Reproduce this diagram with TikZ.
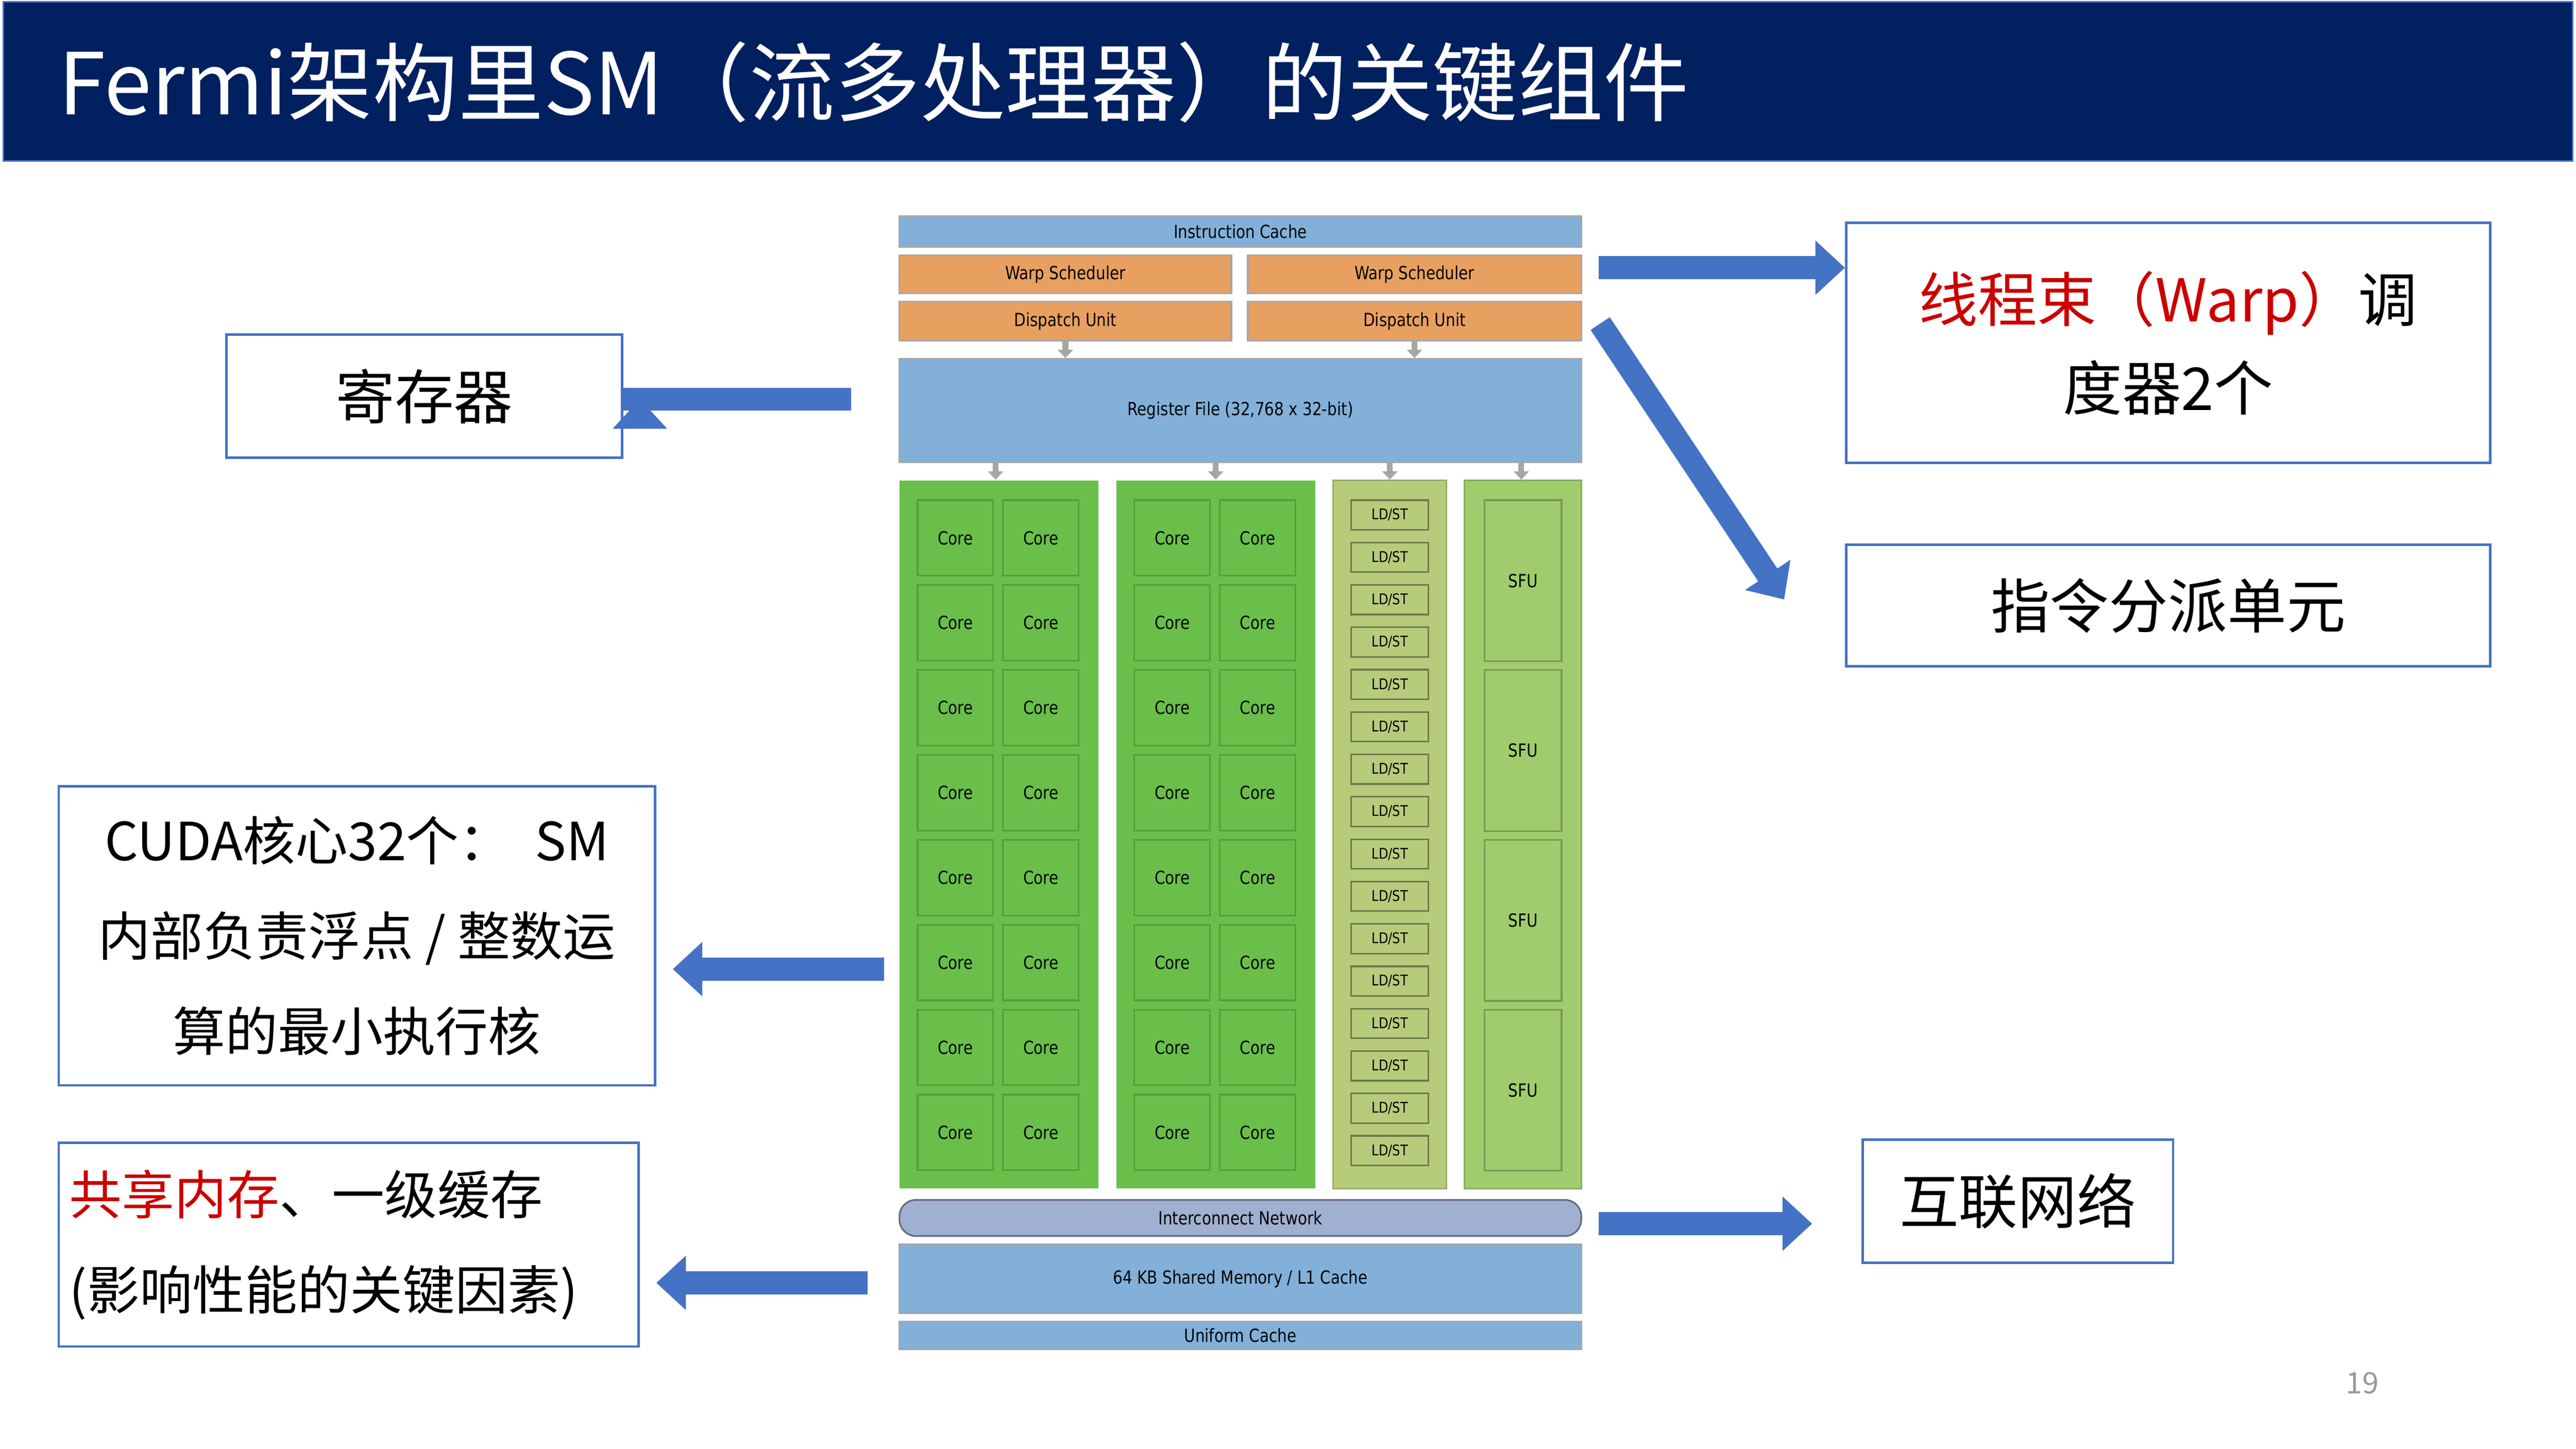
\documentclass[tikz,border=0pt]{standalone}
\usepackage{fontspec}
\setmainfont{Noto Sans CJK SC}
\newfontfamily\diagfont{DejaVu Sans}[FakeStretch=0.84]
\usetikzlibrary{arrows.meta,positioning}
\definecolor{titlenavy}{RGB}{0,32,96}
\definecolor{cacheblue}{RGB}{130,176,217}
\definecolor{schedorange}{RGB}{232,160,96}
\definecolor{coregreen}{RGB}{106,191,75}
\definecolor{celledge}{RGB}{80,160,60}
\definecolor{ldstgreen}{RGB}{182,204,123}
\definecolor{sfugreen}{RGB}{160,204,110}
\definecolor{netgray}{RGB}{160,176,208}
\definecolor{arrowblue}{RGB}{68,114,196}
\definecolor{labelred}{RGB}{204,0,0}
\newcommand*{\unitstyle}{\diagfont\fontsize{11}{12}\selectfont}
\newcommand*{\labelstyle}{\fontsize{36}{40}\selectfont}

\tikzset{
  blk/.style={anchor=north west, inner sep=0, font=\unitstyle, draw=black!35, line width=1pt},
  cell/.style={blk, draw=celledge, minimum width=46pt, minimum height=46pt},
  ldst/.style={blk, draw=black!40!ldstgreen, fill=ldstgreen, minimum width=47pt, minimum height=18pt, font=\diagfont\fontsize{9}{10}\selectfont},
  sfu/.style={blk, draw=black!25!sfugreen, minimum width=47pt, minimum height=98pt},
  feed/.style={-{Triangle[width=9pt,length=5pt]}, line width=3.5pt, draw=black!35},
  bigarrow/.style={-{Triangle[width=32pt,length=18pt]}, line width=14pt, draw=arrowblue},
  labelbox/.style={draw=arrowblue, line width=1.5pt, anchor=north west, inner sep=0}
}

\begin{document}
\begin{tikzpicture}[x=1pt,y=-1pt]
    \useasboundingbox (0,0) rectangle (1568,882);

    % title
    \fill[titlenavy, draw=arrowblue, line width=1pt] (2,1) rectangle (1566,98);
    \node[anchor=west, text=white, font=\fontsize{52}{56}\selectfont] (title) at (32,50)
      {Fermi架构里SM（流多处理器）的关键组件};

    % SM block diagram
    \node[blk, fill=cacheblue, minimum width=415pt, minimum height=19pt] (icache) at (547,131) {Instruction Cache};
    \node[blk, fill=schedorange, minimum width=202pt, minimum height=23pt] (warpA) at (547,155) {Warp Scheduler};
    \node[blk, fill=schedorange, minimum width=203pt, minimum height=23pt] (warpB) at (759,155) {Warp Scheduler};
    \node[blk, fill=schedorange, minimum width=202pt, minimum height=24pt] (dispA) at (547,183) {Dispatch Unit};
    \node[blk, fill=schedorange, minimum width=203pt, minimum height=24pt] (dispB) at (759,183) {Dispatch Unit};
    \node[blk, fill=cacheblue, minimum width=415pt, minimum height=63pt] (regfile) at (547,218) {Register File (32,768 x 32-bit)};

    \draw[feed] (dispA.south) -- (regfile.north -| dispA.south);
    \draw[feed] (dispB.south) -- (regfile.north -| dispB.south);

    \node[blk, draw=none, fill=coregreen, minimum width=121pt, minimum height=431pt] (colA) at (547,292) {};
    \node[blk, draw=none, fill=coregreen, minimum width=121pt, minimum height=431pt] (colB) at (679,292) {};
    \node[blk, draw=black!15!ldstgreen, fill=ldstgreen, minimum width=69pt, minimum height=431pt] (colL) at (811,292) {};
    \node[blk, draw=black!15!sfugreen, fill=sfugreen, minimum width=71pt, minimum height=431pt] (colS) at (891,292) {};

    \foreach \c/\x in {A/606,B/740,L/846,S/926}
      \draw[feed] (regfile.south -| \x,0) -- (col\c.north -| \x,0);

    % cores
    \foreach \r in {0,...,7} {
      \foreach \k/\x in {1/558,2/610,3/690,4/742}
        \node[cell] (core\k-\r) at (\x,304+51.7*\r) {Core};
    }
    % load/store units
    \foreach \r in {0,...,15}
      \node[ldst] (ldst\r) at (822,304+25.8*\r) {LD/ST};
    % special function units
    \foreach \r in {0,...,3}
      \node[sfu] (sfu\r) at (903,304+103.4*\r) {SFU};

    \node[blk, fill=netgray, draw=black!40!netgray, rounded corners=10pt, minimum width=415pt, minimum height=22pt] (net) at (547,730) {Interconnect Network};
    \node[blk, fill=cacheblue, minimum width=415pt, minimum height=42pt] (shmem) at (547,757) {64 KB Shared Memory / L1 Cache};
    \node[blk, fill=cacheblue, minimum width=415pt, minimum height=17pt] (ucache) at (547,804) {Uniform Cache};

    % label boxes
    \node[labelbox, minimum width=392pt, minimum height=146pt, font=\labelstyle, align=center] (warpbox) at (1123,135)
      {{\color{labelred}线程束（Warp）}调\\[14pt]度器2个};
    \node[labelbox, minimum width=392pt, minimum height=74pt, font=\labelstyle] (dispbox) at (1123,331) {指令分派单元};
    \node[labelbox, minimum width=189pt, minimum height=75pt, font=\labelstyle] (netbox) at (1133,693) {互联网络};
    \node[labelbox, minimum width=241pt, minimum height=75pt, font=\labelstyle] (regbox) at (137,203) {寄存器};
    \node[labelbox, minimum width=363pt, minimum height=182pt, font=\fontsize{32}{36}\selectfont, align=center] (corebox) at (35,478)
      {CUDA核心32个：\ \ SM\\[22pt]内部负责浮点 / 整数运\\[22pt]算的最小执行核};
    \node[labelbox, minimum width=353pt, minimum height=124pt, font=\fontsize{32}{36}\selectfont, align=left, text width=340pt] (membox) at (35,695)
      {{\color{labelred}共享内存}、一级缓存\\[22pt](影响性能的关键因素)};

    % pointer arrows
    \coordinate (warpfrom) at (973,163);
    \coordinate (dispfrom) at (974,197);
    \coordinate (regfrom) at (518,243);
    \coordinate (corefrom) at (538,590);
    \coordinate (memfrom) at (528,781);
    \coordinate (netfrom) at (973,745);
    \draw[bigarrow] (warpfrom) -- (warpbox.west |- warpfrom);
    \draw[bigarrow] (dispfrom) -- (1086,365);
    \draw[bigarrow] (regfrom) -- (regbox.east |- regfrom) ++(10,0);
    \draw[bigarrow] (corefrom) -- ([xshift=10pt]corebox.east |- corefrom);
    \draw[bigarrow] (memfrom) -- ([xshift=10pt]membox.east |- memfrom);
    \draw[bigarrow] (netfrom) -- ([xshift=-30pt]netbox.west |- netfrom);

    \node[text=black!40, font=\fontsize{18}{20}\selectfont] (pagenum) at (1438,842) {19};
\end{tikzpicture}
\end{document}
